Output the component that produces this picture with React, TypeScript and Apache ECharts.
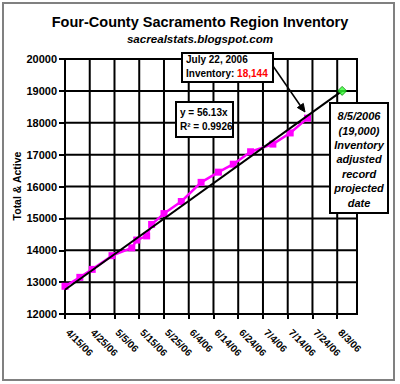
import React, { useEffect, useRef } from "react";
import * as echarts from "echarts";

const dates = [
  "2006-04-15", "2006-04-21", "2006-04-26", "2006-05-04", "2006-05-12",
  "2006-05-14", "2006-05-18", "2006-05-20", "2006-05-25", "2006-06-01",
  "2006-06-09", "2006-06-16", "2006-06-22", "2006-06-29", "2006-07-08",
  "2006-07-15", "2006-07-22",
];
const inventory = [
  12870, 13150, 13400, 13830, 14075, 14320, 14450, 14810, 15150, 15530,
  16130, 16450, 16700, 17090, 17330, 17680, 18144,
];
const trendDates = ["2006-04-15", "2006-08-05"];
const trendValues = [12760, 19000];
const projectedDates = ["2006-08-05"];
const projectedValues = [19000];
const yTicks = [12000, 13000, 14000, 15000, 16000, 17000, 18000, 19000, 20000];
const xGridDays = [0, 10, 20, 30, 40, 50, 60, 70, 80, 90, 100, 110, 118];

const START = Date.UTC(2006, 3, 15);
const DAY = 86400000;
const toDay = (s: string) => (Date.parse(s + "T00:00:00Z") - START) / DAY;
const fmtDay = (v: number) => {
  if (Math.round(v) % 10 !== 0) return "";
  const d = new Date(START + Math.round(v) * DAY);
  return `${d.getUTCMonth() + 1}/${d.getUTCDate()}/${String(d.getUTCFullYear()).slice(2)}`;
};

const FONT = "'Liberation Sans', Arial, sans-serif";

export default function App() {
  const ref = useRef<HTMLDivElement>(null);
  useEffect(() => {
    if (!ref.current) return;
    const chart = echarts.init(ref.current, undefined, { renderer: "svg" });
    const boxStyle = () => ({ fill: "#fff", stroke: "#000", lineWidth: 2 });
    const xMin = xGridDays[0];
    const xMax = xGridDays[xGridDays.length - 1];
    const yMin = yTicks[0];
    const yMax = yTicks[yTicks.length - 1];

    const annotations: any[] = [
      {
        type: "rect",
        shape: { x: 3, y: 3, width: 391, height: 377 },
        style: { fill: "transparent", stroke: "#808080", lineWidth: 2 },
        z: 100,
      },
      {
        type: "text",
        x: 200,
        y: 22,
        style: {
          text: "Four-County Sacramento Region Inventory",
          align: "center",
          verticalAlign: "middle",
          fontSize: 14.5,
          fontWeight: "bold",
          fontFamily: FONT,
          fill: "#000",
        },
      },
      {
        type: "text",
        x: 200,
        y: 38,
        style: {
          text: "sacrealstats.blogspot.com",
          align: "center",
          verticalAlign: "middle",
          fontSize: 11.6,
          fontWeight: "bold",
          fontStyle: "italic",
          fontFamily: FONT,
          fill: "#000",
        },
      },
      {
        type: "text",
        x: 17,
        y: 186,
        rotation: Math.PI / 2,
        style: {
          text: "Total & Active",
          align: "center",
          verticalAlign: "middle",
          fontSize: 10.5,
          fontWeight: "bold",
          fontFamily: FONT,
          fill: "#000",
        },
      },
      { type: "rect", shape: { x: 182, y: 53, width: 91, height: 29 }, style: boxStyle(), z: 100 },
      {
        type: "text",
        x: 186,
        y: 52,
        z: 101,
        style: {
          text: "{a|July 22, 2006}\n{a|Inventory: }{r|18,144}",
          verticalAlign: "top",
          lineHeight: 14.3,
          rich: {
            a: { fontSize: 10, fontWeight: "bold", fontFamily: FONT, fill: "#000", lineHeight: 14.3 },
            r: { fontSize: 10, fontWeight: "bold", fontFamily: FONT, fill: "#ff0000", lineHeight: 14.3 },
          },
        },
      },
      {
        type: "line",
        shape: { x1: 273, y1: 66, x2: 302, y2: 108 },
        style: { stroke: "#000", lineWidth: 1.5 },
        z: 100,
      },
      {
        type: "polygon",
        shape: { points: [[305, 112], [297.4, 107.6], [303.3, 103.4]] },
        style: { fill: "#000", stroke: "#000", lineWidth: 1 },
        z: 100,
      },
      { type: "rect", shape: { x: 176, y: 102, width: 57, height: 35 }, style: boxStyle(), z: 100 },
      {
        type: "text",
        x: 180,
        y: 105.3,
        z: 101,
        style: {
          text: "y = 56.13x\nR² = 0.9926",
          verticalAlign: "top",
          lineHeight: 14,
          fontSize: 10,
          fontWeight: "bold",
          fontFamily: FONT,
          fill: "#000",
        },
      },
      { type: "rect", shape: { x: 330, y: 103, width: 58, height: 110 }, style: boxStyle(), z: 100 },
      {
        type: "text",
        x: 359,
        y: 109,
        z: 101,
        style: {
          text: "8/5/2006\n(19,000)\nInventory\nadjusted\nrecord\nprojected\ndate",
          align: "center",
          verticalAlign: "top",
          lineHeight: 14.4,
          fontSize: 11,
          fontWeight: "bold",
          fontStyle: "italic",
          fontFamily: FONT,
          fill: "#000",
        },
      },
    ];

    chart.setOption({
      animation: false,
      grid: { left: 65, right: 43, top: 59, bottom: 70, show: false },
      xAxis: {
        type: "value",
        min: xMin,
        max: xMax,
        interval: 10,
        axisLine: { show: true, lineStyle: { color: "#000", width: 2 } },
        axisTick: { show: true, length: 5, lineStyle: { color: "#000", width: 2 } },
        axisLabel: {
          rotate: -45,
          margin: 14,
          padding: [0, 0, 0, 4],
          fontSize: 10,
          fontWeight: "bold",
          fontFamily: FONT,
          color: "#000",
          showMaxLabel: false,
          formatter: (v: number) => fmtDay(v),
        },
        splitLine: { show: false },
      },
      yAxis: {
        type: "value",
        min: yMin,
        max: yMax,
        interval: 1000,
        axisLine: { show: true, lineStyle: { color: "#000", width: 2 } },
        axisTick: { show: true, length: 6, lineStyle: { color: "#000", width: 2 } },
        axisLabel: {
          margin: 8,
          fontSize: 11,
          fontWeight: "bold",
          fontFamily: FONT,
          color: "#000",
          formatter: (v: number) => String(v),
        },
        splitLine: { show: false },
      },
      series: [
        {
          type: "line",
          name: "Inventory",
          data: dates.map((d, i) => [toDay(d), inventory[i]]),
          symbol: "rect",
          symbolSize: 7,
          itemStyle: { color: "#ff00ff" },
          lineStyle: { color: "#ff00ff", width: 2.5 },
          z: 3,
        },
        {
          type: "line",
          name: "Trend",
          data: trendDates.map((d, i) => [toDay(d), trendValues[i]]),
          symbol: "none",
          lineStyle: { color: "#000", width: 2 },
          z: 4,
        },
        {
          type: "scatter",
          name: "Projected",
          data: projectedDates.map((d, i) => [toDay(d), projectedValues[i]]),
          symbol: "diamond",
          symbolSize: 9,
          itemStyle: { color: "#33ff33", borderColor: "#008800", borderWidth: 1 },
          z: 5,
        },
      ],
      graphic: annotations,
    });

    // Grid lines placed through the chart's own scales.
    const px = (x: number, y: number) =>
      chart.convertToPixel({ gridIndex: 0 }, [x, y]) as number[];
    const gridRects: any[] = [];
    yTicks.forEach((v) => {
      const a = px(xMin, v);
      const b = px(xMax, v);
      gridRects.push({
        type: "rect",
        shape: { x: a[0] - 1, y: a[1] - 1, width: b[0] - a[0] + 2, height: 2 },
        style: { fill: "#000" },
        z: 2,
        silent: true,
      });
    });
    xGridDays.forEach((v) => {
      const a = px(v, yMin);
      const b = px(v, yMax);
      gridRects.push({
        type: "rect",
        shape: { x: a[0] - 1, y: b[1] - 1, width: 2, height: a[1] - b[1] + 2 },
        style: { fill: "#000" },
        z: 2,
        silent: true,
      });
    });
    chart.setOption({ graphic: [...annotations, ...gridRects] });

    return () => chart.dispose();
  }, []);
  return (
    <div
      ref={ref}
      style={{ position: "fixed", left: 0, top: 0, width: 400, height: 384, background: "#fff" }}
    />
  );
}
